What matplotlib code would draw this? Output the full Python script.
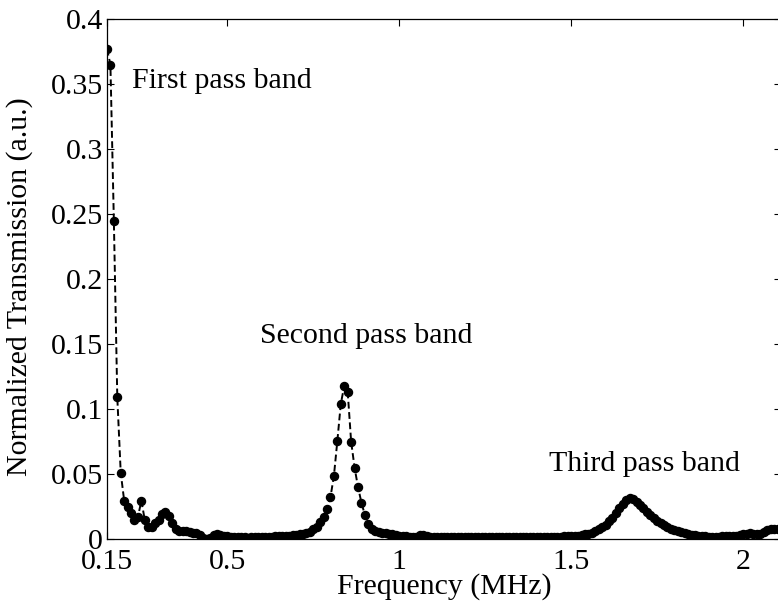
import numpy as np
import matplotlib
matplotlib.use("Agg")
import matplotlib.pyplot as plt

plt.rcParams['font.family'] = ['Liberation Serif', 'DejaVu Serif']

# transmission, one value every 0.01 MHz from 0.15 to 2.11
band1 = [0.377, 0.365, 0.245, 0.109, 0.051, 0.0295, 0.025, 0.020, 0.015, 0.017,
         0.0295, 0.0146, 0.009, 0.009, 0.012, 0.0146, 0.019, 0.021, 0.018, 0.012,
         0.008, 0.0065, 0.006, 0.0058, 0.0055, 0.005, 0.0045, 0.003, 0.001, 0.0002,
         0.001, 0.003, 0.004, 0.003, 0.0025]
band2 = [0.002, 0.0018, 0.0016, 0.0015, 0.0013, 0.0012, 0.001, 0.0012, 0.0014, 0.0015,
         0.0016, 0.0017, 0.0018, 0.0019, 0.002, 0.0021, 0.0022, 0.0024, 0.0026, 0.0028,
         0.003, 0.0035, 0.004, 0.0045, 0.0056, 0.0075, 0.0095, 0.0133, 0.017, 0.0228,
         0.0323, 0.0487, 0.0756, 0.104, 0.1177, 0.1133, 0.075, 0.055, 0.040, 0.028,
         0.0185, 0.0115, 0.008, 0.0065, 0.0056, 0.005, 0.0044, 0.004, 0.0035, 0.003]
gap = [0.0025, 0.0022, 0.002, 0.0018, 0.0017, 0.0017, 0.0028, 0.003, 0.0022, 0.0017,
       0.0015, 0.0015, 0.0014, 0.0014, 0.0015, 0.0015, 0.0014, 0.0014, 0.0015, 0.0015,
       0.0015, 0.0014, 0.0014, 0.0015, 0.0015, 0.0016, 0.0015, 0.0015, 0.0014, 0.0015,
       0.0015, 0.0016, 0.0015, 0.0015, 0.0016, 0.0016, 0.0015, 0.0016, 0.0016, 0.0016,
       0.0017, 0.0017, 0.0017, 0.0018, 0.0018, 0.0018, 0.0019, 0.0019, 0.002, 0.002]
band3 = [0.002, 0.0022, 0.0025, 0.003, 0.0035, 0.0042, 0.005, 0.006, 0.0075, 0.009,
         0.011, 0.0135, 0.0165, 0.02, 0.0235, 0.027, 0.0298, 0.0313, 0.0305, 0.0285,
         0.026, 0.0235, 0.021, 0.0185, 0.016, 0.0142, 0.0125, 0.0108, 0.0092, 0.008,
         0.007, 0.006, 0.0052, 0.0045, 0.0038, 0.0032, 0.0028, 0.0025, 0.0022, 0.002,
         0.0018, 0.0018, 0.0017, 0.0018, 0.002, 0.0022, 0.0022, 0.002, 0.0025, 0.003,
         0.0035, 0.0042, 0.0045, 0.004, 0.0038, 0.0042, 0.0055, 0.0068, 0.0075, 0.008,
         0.0078, 0.0075]

trans = np.array(band1 + band2 + gap + band3)
freq = np.linspace(0.15, 2.11, len(trans))

xticks = [0.15, 0.5, 1, 1.5, 2]
xticklabels = ['0.15', '0.5', '1', '1.5', '2']
yticks = [0, 0.05, 0.1, 0.15, 0.2, 0.25, 0.3, 0.35, 0.4]
yticklabels = ['0', '0.05', '0.1', '0.15', '0.2', '0.25', '0.3', '0.35', '0.4']

fig = plt.figure(figsize=(7.78, 6.11), dpi=100)
ax = fig.add_axes([0.1375, 0.1178, 0.8663, 0.8511])

ax.plot(freq, trans, color='k', linestyle=(0, (3.5, 1.8)), linewidth=1.4,
        marker='o', markersize=5.8, markerfacecolor='k', markeredgecolor='k')

ax.set_xlim(0.15, 2.11)
ax.set_ylim(0, 0.4)
ax.set_xticks(xticks)
ax.set_xticklabels(xticklabels)
ax.set_yticks(yticks)
ax.set_yticklabels(yticklabels)
ax.tick_params(direction='in', length=5, width=0.8, top=True, right=True,
               labelsize=21.5, colors='k')
ax.tick_params(axis='x', pad=7)
ax.tick_params(axis='y', pad=3)
for s in ax.spines.values():
    s.set_linewidth(0.9)

ax.set_xlabel('Frequency (MHz)', fontsize=21.5, labelpad=-1)
ax.set_ylabel('Normalized Transmission (a.u.)', fontsize=21.5)
ax.yaxis.set_label_coords(-0.11, 0.485)

ax.text(0.223, 0.347, 'First pass band', fontsize=21.5)
ax.text(0.595, 0.151, 'Second pass band', fontsize=21.5)
ax.text(1.436, 0.052, 'Third pass band', fontsize=21.5)

fig.savefig('out.png', dpi=100)
